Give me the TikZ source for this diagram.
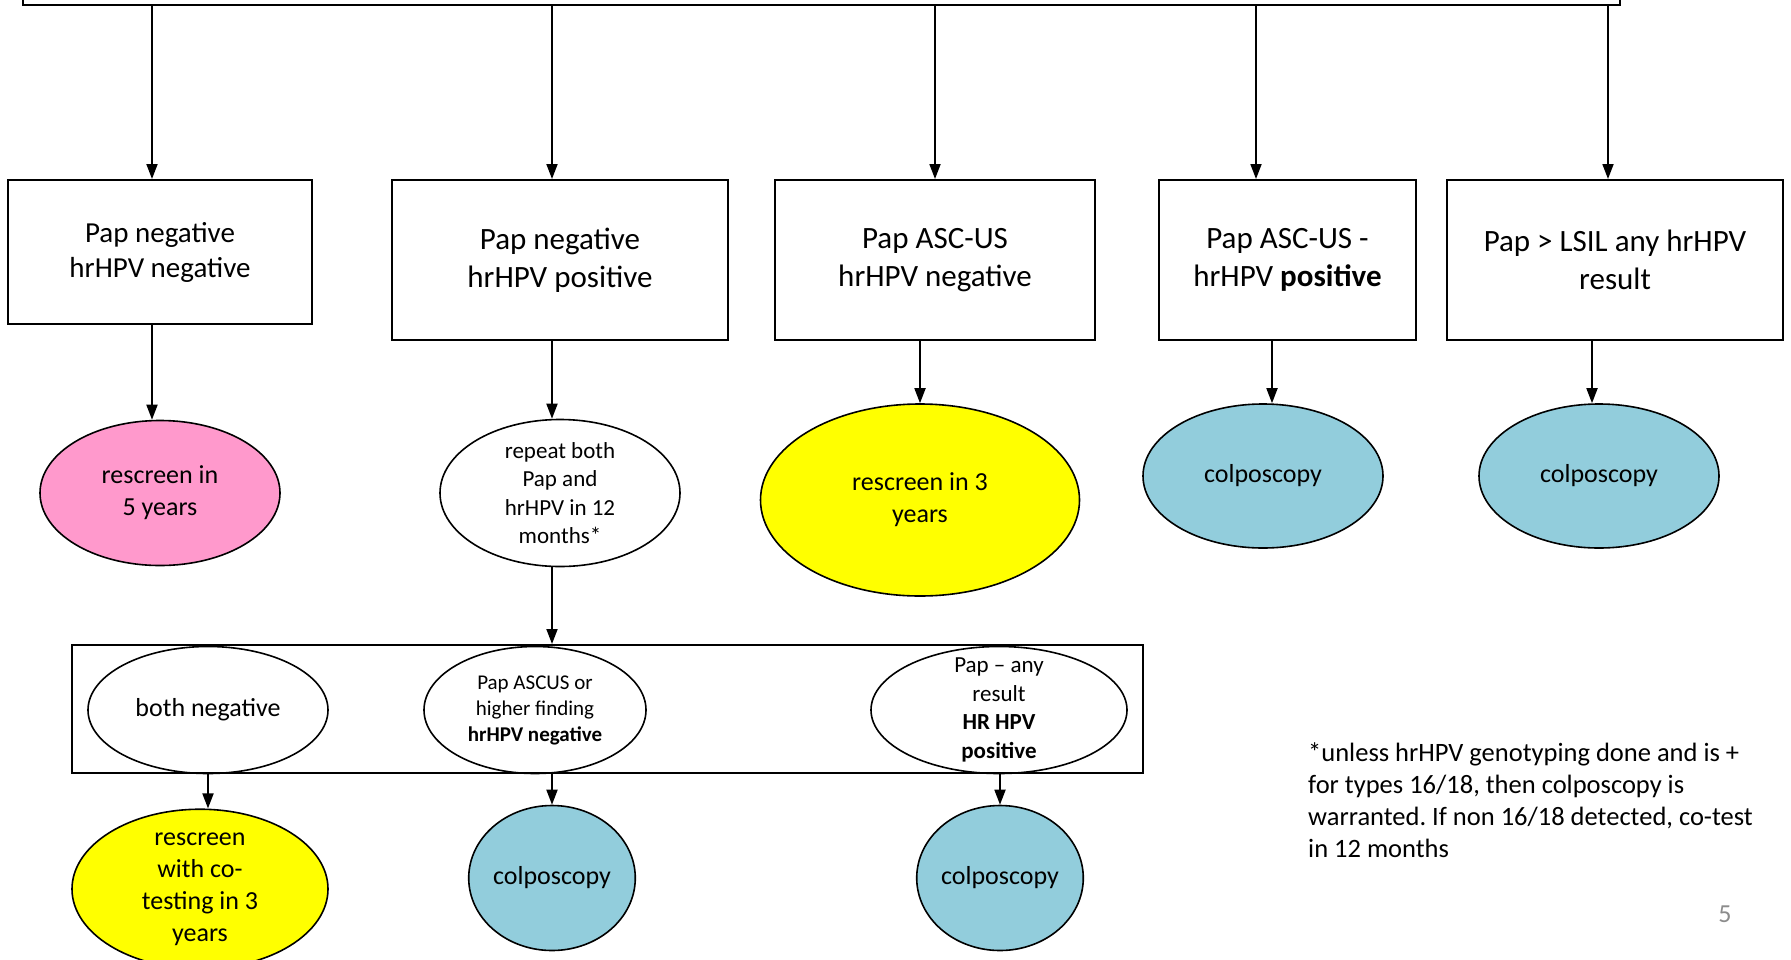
\documentclass[tikz,border=0pt]{standalone}
\usepackage{fontspec}
\setmainfont{Carlito}
\usetikzlibrary{arrows.meta,shapes.geometric}

\definecolor{pinkfill}{HTML}{FF99CC}
\definecolor{yellowfill}{HTML}{FFFF00}
\definecolor{bluefill}{HTML}{92CDDC}
\definecolor{pagegrey}{HTML}{8C8C8C}

\tikzset{
    resultbox/.style={draw, line width=2pt, align=center, inner sep=0pt},
    outcome/.style={ellipse, draw, line width=1.6pt, align=center, inner sep=0pt},
    arr/.style={-{Triangle[length=15pt,width=11pt]}, line width=1.8pt},
    txtbig/.style={font=\fontsize{31}{38}\selectfont},
    txtmid/.style={font=\fontsize{26}{32}\selectfont},
    txtsmall/.style={font=\fontsize{23}{28.5}\selectfont}
}

\begin{document}
\frenchspacing
\begin{tikzpicture}[x=1pt,y=-1pt]
            \useasboundingbox (0,0) rectangle (1791,959);

            % co-test box (cut at the top)
            \node[resultbox, anchor=south, minimum width=1597pt, minimum height=80pt] (top) at (821.5,6) {};

            % first results
            \node[resultbox, minimum width=304pt, minimum height=144pt, font=\fontsize{29}{35}\selectfont] (b1) at (160,252) {Pap negative\\hrHPV negative};
            \node[resultbox, minimum width=336pt, minimum height=160pt, txtbig] (b2) at (560,260) {Pap negative\\hrHPV positive};
            \node[resultbox, minimum width=320pt, minimum height=160pt, txtbig] (b3) at (935,260) {Pap ASC-US\\hrHPV negative};
            \node[resultbox, minimum width=257pt, minimum height=160pt, txtbig] (b4) at (1287.5,260) {Pap ASC-US -\\hrHPV \textbf{positive}};
            \node[resultbox, minimum width=336pt, minimum height=160pt, txtbig] (b5) at (1615,260) {Pap > LSIL any hrHPV\\result};

            % first outcomes
            \node[outcome, fill=pinkfill, minimum width=240pt, minimum height=145pt, txtmid] (e1) at (160,493) {rescreen in\\5 years};
            \node[outcome, fill=white, minimum width=240pt, minimum height=147pt, txtsmall] (e2) at (560,493) {repeat both\\Pap and\\hrHPV in 12\\months*};
            \node[outcome, fill=yellowfill, minimum width=319pt, minimum height=192pt, txtmid] (e3) at (920,500) {rescreen in 3\\years};
            \node[outcome, fill=bluefill, minimum width=240pt, minimum height=144pt, txtmid] (e4) at (1263,476) {colposcopy};
            \node[outcome, fill=bluefill, minimum width=240pt, minimum height=144pt, txtmid] (e5) at (1599,476) {colposcopy};

            % repeat results
            \node[resultbox, minimum width=1071pt, minimum height=128pt] (g) at (607.5,709) {};
            \node[outcome, minimum width=240pt, minimum height=127pt, txtmid] (ga) at (208,710) {both negative};
            \node[outcome, minimum width=222pt, minimum height=127pt, font=\fontsize{21}{26}\selectfont] (gb) at (535,710) {Pap ASCUS or\\higher finding\\\textbf{hrHPV negative}};
            \node[outcome, inner sep=-12pt, minimum width=256pt, minimum height=127pt, txtsmall] (gc) at (999,710) {Pap -- any\\result\\\textbf{HR HPV}\\\textbf{positive}};

            % repeat outcomes
            \node[outcome, fill=yellowfill, minimum width=256pt, minimum height=137pt, txtmid] (f1) at (200,889) {rescreen\\with co-\\testing in 3\\years};
            \node[outcome, fill=bluefill, minimum width=160pt, minimum height=145pt, txtmid] (f2) at (552,878) {colposcopy};
            \node[outcome, fill=bluefill, minimum width=158pt, minimum height=145pt, txtmid] (f3) at (1000,878) {colposcopy};

            % note and page number
            \node[anchor=north west, inner sep=0pt, align=left, font=\fontsize{26.5}{32}\selectfont] (note) at (1308,742)
                {*unless hrHPV genotyping done and is +\\for types 16/18, then colposcopy is\\warranted. If non 16/18 detected, co-test\\in 12 months};
            \node[text=pagegrey, font=\fontsize{26}{32}\selectfont] (page) at (1725,914) {5};

            % arrows
            \draw[arr] ([xshift=-8pt]b1.north |- top.south) -- ([xshift=-8pt]b1.north);
            \draw[arr] ([xshift=-8pt]b2.north |- top.south) -- ([xshift=-8pt]b2.north);
            \draw[arr] (b3.north |- top.south) -- (b3.north);
            \draw[arr] ([xshift=-31.5pt]b4.north |- top.south) -- ([xshift=-31.5pt]b4.north);
            \draw[arr] ([xshift=-7pt]b5.north |- top.south) -- ([xshift=-7pt]b5.north);

            \draw[arr] ([xshift=-8pt]b1.south) -- ([xshift=-8pt]e1.north);
            \draw[arr] ([xshift=-8pt]b2.south) -- ([xshift=-8pt]e2.north);
            \draw[arr] (e3.north |- b3.south) -- (e3.north);
            \draw[arr] ([xshift=9pt]e4.north |- b4.south) -- ([xshift=9pt]e4.north);
            \draw[arr] ([xshift=-7pt]e5.north |- b5.south) -- ([xshift=-7pt]e5.north);

            \draw[arr] ([xshift=-8pt]e2.south) -- ([xshift=-8pt]e2.south |- g.north);

            \draw[arr] (ga.south |- g.south) -- (ga.south |- f1.north);
            \draw[arr] (f2.north |- g.south) -- (f2.north);
            \draw[arr] (f3.north |- g.south) -- (f3.north);

        \end{tikzpicture}
\end{document}
